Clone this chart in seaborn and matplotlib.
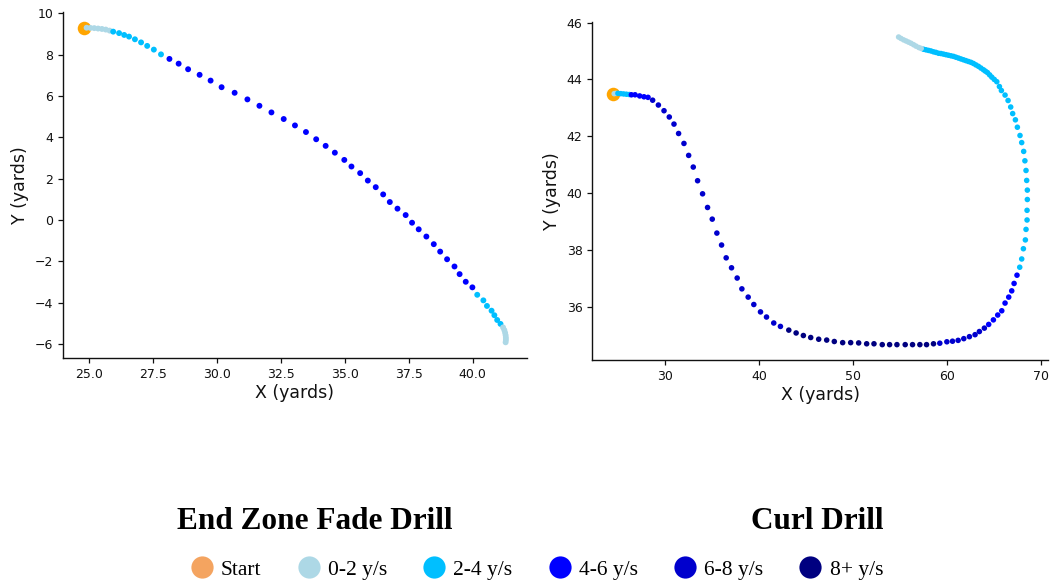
import matplotlib
matplotlib.use("Agg")
import matplotlib.pyplot as plt
from matplotlib.lines import Line2D
import seaborn as sns
import pandas as pd

# ---------------- data ----------------
speed_labels = ["0-2 y/s", "2-4 y/s", "4-6 y/s", "6-8 y/s", "8+ y/s"]
speed_colors = ["lightblue", "deepskyblue", "blue", "mediumblue", "navy"]
start_color = "orange"
legend_start_color = "#F4A460"

fade_start = (24.80, 9.30)
fade_x = [24.90, 25.05, 25.20, 25.35, 25.50, 25.65, 25.80,
          25.94, 26.17, 26.37, 26.56, 26.79, 27.03, 27.27, 27.53, 27.81,
          28.14, 28.50, 28.87, 29.32, 29.75, 30.18, 30.69, 31.19, 31.66, 32.13,
          32.61, 33.05, 33.48, 33.88, 34.25, 34.61, 34.98, 35.26, 35.60, 35.90,
          36.21, 36.50, 36.76, 37.06, 37.38, 37.63, 37.89, 38.19, 38.48, 38.73,
          39.00, 39.29, 39.49, 39.73, 39.99,
          40.18, 40.42, 40.56, 40.74, 40.85, 40.96, 41.09,
          41.19, 41.24, 41.27, 41.29, 41.30, 41.30, 41.29]
fade_y = [9.31, 9.30, 9.29, 9.27, 9.25, 9.22, 9.17,
          9.12, 9.05, 8.96, 8.88, 8.75, 8.60, 8.43, 8.25, 8.02,
          7.80, 7.57, 7.30, 7.03, 6.75, 6.43, 6.16, 5.84, 5.53, 5.21,
          4.89, 4.58, 4.26, 3.91, 3.59, 3.26, 2.91, 2.59, 2.27, 1.91,
          1.59, 1.24, 0.87, 0.55, 0.24, -0.13, -0.45, -0.80, -1.17, -1.53,
          -1.90, -2.25, -2.62, -2.99, -3.26,
          -3.62, -3.89, -4.16, -4.39, -4.61, -4.84, -5.03,
          -5.20, -5.33, -5.46, -5.58, -5.70, -5.81, -5.92]
fade_speed = (["0-2 y/s"] * 7 + ["2-4 y/s"] * 9 + ["4-6 y/s"] * 35
              + ["2-4 y/s"] * 7 + ["0-2 y/s"] * 7)

curl_start = (24.48, 43.48)
curl_x = [24.60, 24.80,
          25.00, 25.30, 25.60, 25.90, 26.20,
          26.43, 26.82, 27.31, 27.77, 28.20,
          28.69, 29.30, 29.90, 30.46, 30.96, 31.45, 32.02, 32.52, 33.01, 33.47,
          34.00, 34.53, 35.03, 35.52, 36.02, 36.51, 37.08, 37.68, 38.18, 38.85,
          39.45, 40.16, 40.80, 41.57, 42.28,
          43.17, 43.95, 44.72, 45.50, 46.35, 47.20, 48.01, 48.90, 49.75, 50.60,
          51.45, 52.23, 53.11, 53.89, 54.67, 55.55, 56.33, 57.11, 57.82, 58.56,
          59.23, 59.98, 60.58, 61.18, 61.78, 62.38, 62.98, 63.44, 63.97,
          64.43, 64.93, 65.39, 65.82, 66.17, 66.56, 66.88, 67.13, 67.44,
          67.73, 67.94, 68.12, 68.33, 68.40, 68.51, 68.51, 68.54, 68.54, 68.47,
          68.40, 68.28, 68.15, 67.94, 67.76, 67.48, 67.27, 66.98, 66.77, 66.49,
          66.17, 65.78, 65.57, 65.29, 65.02, 64.76, 64.53, 64.30, 64.08, 63.87,
          63.60, 63.34, 63.07, 62.81, 62.55, 62.28, 62.01, 61.75, 61.48, 61.22,
          60.95, 60.69, 60.42, 60.15, 59.88, 59.62, 59.35, 59.09, 58.82, 58.56,
          58.29, 58.03, 57.76, 57.50,
          57.25, 57.00, 56.70, 56.44, 56.17, 55.91, 55.65, 55.38, 55.10, 54.85]
curl_y = [43.50, 43.51,
          43.51, 43.50, 43.49, 43.48, 43.47,
          43.46, 43.46, 43.42, 43.39, 43.37,
          43.27, 43.10, 42.90, 42.68, 42.43, 42.10, 41.75, 41.33, 40.92, 40.44,
          39.98, 39.50, 39.09, 38.60, 38.18, 37.73, 37.38, 37.02, 36.64, 36.35,
          36.09, 35.83, 35.65, 35.44, 35.32,
          35.19, 35.09, 35.00, 34.93, 34.87, 34.84, 34.79, 34.75, 34.75, 34.74,
          34.71, 34.71, 34.68, 34.68, 34.68, 34.68, 34.68, 34.68, 34.68, 34.71,
          34.73, 34.78, 34.80, 34.83, 34.89, 34.96, 35.03, 35.14, 35.26,
          35.39, 35.55, 35.72, 35.87, 36.14, 36.35, 36.57, 36.83, 37.12,
          37.40, 37.69, 38.05, 38.36, 38.73, 39.06, 39.40, 39.78, 40.11, 40.45,
          40.80, 41.14, 41.47, 41.78, 42.03, 42.32, 42.58, 42.80, 43.03, 43.26,
          43.45, 43.61, 43.75, 43.92, 44.00, 44.08, 44.16, 44.24, 44.29, 44.34,
          44.40, 44.46, 44.51, 44.56, 44.60, 44.63, 44.66, 44.69, 44.72, 44.75,
          44.78, 44.81, 44.83, 44.85, 44.87, 44.89, 44.91, 44.92, 44.95, 44.97,
          45.00, 45.02, 45.04, 45.06,
          45.09, 45.12, 45.17, 45.22, 45.27, 45.31, 45.35, 45.39, 45.44, 45.49]
curl_speed = (["0-2 y/s"] * 2 + ["2-4 y/s"] * 5 + ["4-6 y/s"] * 5
              + ["6-8 y/s"] * 25 + ["8+ y/s"] * 20 + ["6-8 y/s"] * 9
              + ["4-6 y/s"] * 9 + ["2-4 y/s"] * 54 + ["0-2 y/s"] * 10)

titles = ["End Zone Fade Drill", "Curl Drill"]
x_label = "X (yards)"
y_label = "Y (yards)"

# ---------------- plot ----------------
sns.set_theme(style="ticks")
plt.rcParams["font.family"] = ["DejaVu Sans"]
plt.rcParams["text.color"] = "black"
plt.rcParams["axes.labelcolor"] = "#111111"

fig = plt.figure(figsize=(10.51, 5.85), dpi=100)
ax1 = fig.add_axes([0.0599, 0.388, 0.4415, 0.5915])
ax2 = fig.add_axes([0.5636, 0.3846, 0.4336, 0.5784])

palette = dict(zip(speed_labels, speed_colors))

for ax, start, xs, ys, sp, size in [
    (ax1, fade_start, fade_x, fade_y, fade_speed, 18),
    (ax2, curl_start, curl_x, curl_y, curl_speed, 16),
]:
    df = pd.DataFrame({"x": xs, "y": ys, "speed": sp})
    sns.scatterplot(x=[start[0]], y=[start[1]], color=start_color, s=95,
                    linewidth=0, ax=ax, legend=False, zorder=2)
    sns.scatterplot(data=df, x="x", y="y", hue="speed", palette=palette,
                    hue_order=speed_labels, s=size, linewidth=0, ax=ax,
                    legend=False, zorder=3)
    ax.set_xlabel(x_label, fontsize=12.5, labelpad=2)
    ax.set_ylabel(y_label, fontsize=12.5, labelpad=4)
    ax.tick_params(labelsize=9, length=3.5, width=0.9, colors="#111111")
    for s in ["left", "bottom"]:
        ax.spines[s].set_color("#111111")
        ax.spines[s].set_linewidth(1.0)
    sns.despine(ax=ax)

ax1.set_xticks([25.0, 27.5, 30.0, 32.5, 35.0, 37.5, 40.0])
ax1.set_yticks([-6, -4, -2, 0, 2, 4, 6, 8, 10])
ax2.set_xticks([30, 40, 50, 60, 70])
ax2.set_yticks([36, 38, 40, 42, 44, 46])

serif = ["Liberation Serif", "DejaVu Serif"]
fig.text(0.2997, 0.0949, titles[0], ha="center", va="baseline",
         fontsize=22.5, fontweight="bold", family=serif, color="black")
fig.text(0.778, 0.0949, titles[1], ha="center", va="baseline",
         fontsize=22.5, fontweight="bold", family=serif, color="black")

handles = [Line2D([], [], marker="o", linestyle="none", markersize=16,
                  markerfacecolor=legend_start_color, markeredgewidth=0,
                  label="Start")]
for lab, col in zip(speed_labels, speed_colors):
    handles.append(Line2D([], [], marker="o", linestyle="none", markersize=16,
                          markerfacecolor=col, markeredgewidth=0, label=lab))
leg = fig.legend(handles=handles, loc="center", bbox_to_anchor=(0.511, 0.026),
                 ncol=6, frameon=False, handlelength=1.0, handletextpad=0.4,
                 columnspacing=1.68, prop={"family": serif, "size": 15.5},
                 borderaxespad=0, borderpad=0)
for t in leg.get_texts():
    t.set_color("black")

fig.savefig("out.png", dpi=100)
